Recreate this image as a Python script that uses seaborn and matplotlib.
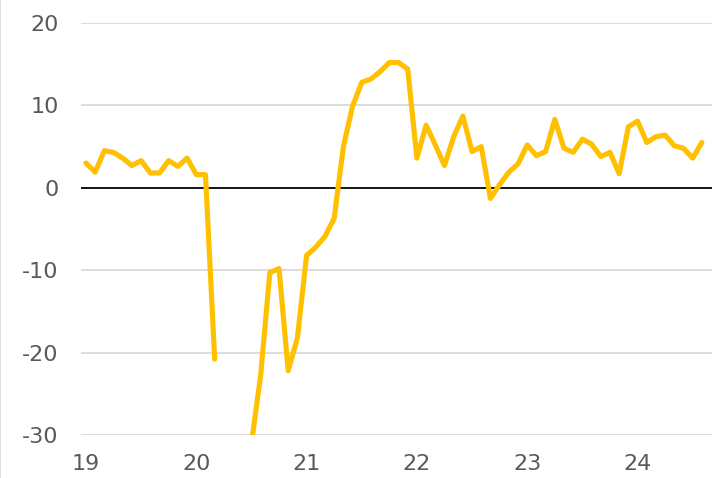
import numpy as np
import pandas as pd
import matplotlib
matplotlib.use("Agg")
import matplotlib.pyplot as plt
import seaborn as sns
from matplotlib.lines import Line2D

# Monthly values, Jan 2019 .. Aug 2024 (NaN = not shown)
values = [
    # 2019
    3.0, 1.9, 4.5, 4.3, 3.6, 2.7, 3.3, 1.8, 1.8, 3.3, 2.6, 3.6,
    # 2020
    1.6, 1.6, -20.8, np.nan, np.nan, np.nan, -31.0, -22.8, -10.3, -9.8, -22.2, -18.2,
    # 2021
    -8.2, -7.2, -5.9, -3.7, 5.0, 9.9, 12.8, 13.2, 14.1, 15.2, 15.2, 14.4,
    # 2022
    3.6, 7.6, 5.2, 2.7, 6.2, 8.7, 4.4, 5.0, -1.3, 0.4, 1.9, 2.9,
    # 2023
    5.2, 3.9, 4.4, 8.3, 4.8, 4.3, 5.9, 5.3, 3.8, 4.3, 1.7, 7.4,
    # 2024
    8.1, 5.5, 6.2, 6.4, 5.1, 4.8, 3.6, 5.5,
]
year_labels = ["19", "20", "21", "22", "23", "24"]
y_ticks = [-30, -20, -10, 0, 10, 20]

df = pd.DataFrame({"month": np.arange(len(values)), "value": values})
seg = df["value"].isna().cumsum()
df["seg"] = seg
df = df.dropna()

sns.set_theme(style="white")
plt.rcParams["font.family"] = ["DejaVu Sans"]

fig = plt.figure(figsize=(7.12, 4.78), dpi=100)
ax = fig.add_axes([81 / 712, 1 - 435 / 478, 1 - 81 / 712, (435 - 23) / 478])

for y in y_ticks:
    if y == 0:
        continue
    ax.axhline(y, color="#D9D9D9", linewidth=1.3, zorder=0)
ax.axhline(0, color="black", linewidth=1.3, zorder=1)

sns.lineplot(data=df, x="month", y="value", units="seg", estimator=None,
             color="#FFC000", linewidth=3.7, ax=ax, zorder=3,
             solid_joinstyle="round", solid_capstyle="round")

ax.set_xlim(-0.54, 68.1)
ax.set_ylim(-30, 20)
ax.set_xticks([12 * i for i in range(len(year_labels))])
ax.set_xticklabels(year_labels)
ax.set_yticks(y_ticks)
ax.set_yticklabels([str(v) for v in y_ticks])
ax.tick_params(axis="both", length=0, labelsize=16, labelcolor="#595959")
ax.tick_params(axis="y", pad=16)
ax.tick_params(axis="x", pad=13.5)
ax.set_xlabel("")
ax.set_ylabel("")
for s in ax.spines.values():
    s.set_visible(False)
ax.grid(False)

fig.add_artist(Line2D([0.0007, 0.0007], [0, 1], color="#D9D9D9", linewidth=1.2,
                      transform=fig.transFigure))

fig.savefig("out.png", dpi=100)
